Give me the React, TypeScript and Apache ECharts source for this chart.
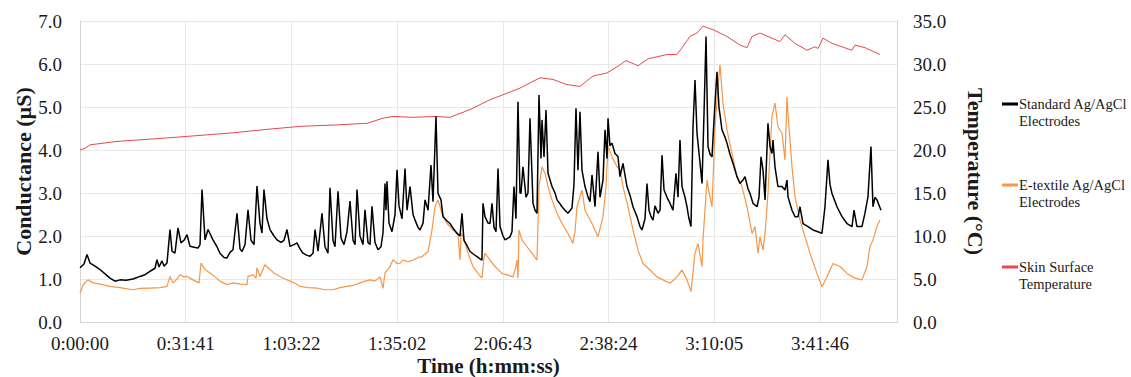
import React, { useEffect, useRef } from "react";
import * as echarts from "echarts";

// Time in seconds, value in µS / °C
const standardAgAgCl: [number, number][] = [
  [0, 1.26], [72, 1.35], [126, 1.57], [180, 1.37], [270, 1.3], [360, 1.22], [450, 1.12], [539, 1.02],
  [629, 0.95], [719, 0.98], [827, 0.97], [953, 1.0], [1079, 1.06], [1169, 1.1], [1259, 1.18], [1349, 1.25],
  [1384, 1.45], [1420, 1.28], [1474, 1.42], [1510, 1.3], [1564, 1.37], [1618, 2.15], [1654, 1.65], [1708, 1.6],
  [1762, 2.19], [1816, 1.84], [1870, 1.9], [1924, 2.03], [1978, 1.76], [2050, 1.74], [2122, 1.72], [2158, 1.8],
  [2194, 3.08], [2248, 1.91], [2302, 2.15], [2391, 1.91], [2463, 1.75], [2517, 1.6], [2589, 1.5], [2643, 1.49],
  [2697, 1.62], [2751, 1.68], [2823, 2.53], [2877, 1.7], [2913, 1.64], [2967, 1.8], [3021, 2.61], [3075, 1.9],
  [3129, 1.8], [3182, 3.16], [3236, 2.3], [3272, 2.07], [3308, 3.08], [3362, 2.4], [3416, 2.15], [3488, 2.0],
  [3542, 1.91], [3614, 1.85], [3668, 1.9], [3722, 2.15], [3776, 1.76], [3848, 1.8], [3902, 1.84], [3956, 1.7],
  [4010, 1.6], [4082, 1.55], [4136, 1.53], [4190, 1.6], [4226, 2.15], [4280, 1.65], [4351, 2.53], [4405, 1.75],
  [4459, 1.6], [4495, 3.12], [4549, 1.9], [4585, 1.75], [4639, 3.04], [4693, 1.95], [4747, 1.8], [4801, 2.1],
  [4855, 2.81], [4909, 1.9], [4945, 1.8], [4981, 3.08], [5034, 2.0], [5088, 1.8], [5124, 2.61], [5178, 1.85],
  [5214, 1.8], [5250, 2.69], [5304, 1.85], [5358, 1.68], [5412, 1.75], [5448, 2.07], [5484, 3.22], [5502, 2.6],
  [5520, 3.27], [5556, 2.3], [5610, 2.1], [5664, 2.5], [5700, 3.54], [5736, 2.7], [5790, 2.4], [5844, 3.57],
  [5880, 2.6], [5934, 3.15], [5988, 2.5], [6024, 2.37], [6078, 2.2], [6114, 2.14], [6168, 2.3], [6204, 2.84],
  [6258, 2.6], [6311, 3.65], [6347, 2.8], [6401, 4.78], [6437, 2.99], [6491, 2.84], [6527, 2.45], [6599, 2.35],
  [6653, 2.29], [6725, 2.15], [6779, 2.06], [6833, 2.0], [6868, 2.53], [6904, 1.9], [6958, 1.78], [7012, 1.64],
  [7084, 1.57], [7138, 1.52], [7192, 1.47], [7228, 1.44], [7246, 2.76], [7282, 2.45], [7336, 2.3], [7372, 2.29],
  [7408, 2.76], [7444, 2.2], [7480, 2.1], [7516, 3.57], [7552, 2.22], [7606, 2.0], [7642, 1.91], [7695, 1.95],
  [7731, 1.98], [7767, 2.1], [7803, 3.15], [7839, 2.4], [7875, 5.12], [7911, 3.0], [7929, 2.99], [7965, 3.61],
  [8019, 2.9], [8055, 3.0], [8091, 4.74], [8145, 2.76], [8181, 2.6], [8217, 2.53], [8253, 5.28], [8289, 3.8],
  [8307, 4.7], [8343, 3.84], [8379, 4.93], [8415, 3.46], [8487, 3.15], [8541, 3.0], [8577, 2.84], [8630, 2.75],
  [8666, 2.68], [8720, 2.6], [8774, 2.53], [8846, 2.65], [8882, 3.2], [8918, 4.97], [8954, 3.53], [8990, 4.89],
  [9026, 3.53], [9080, 3.15], [9134, 2.91], [9170, 2.8], [9206, 3.42], [9260, 2.68], [9314, 3.96], [9350, 2.9],
  [9404, 3.3], [9440, 4.47], [9476, 3.8], [9494, 4.74], [9529, 4.1], [9565, 4.16], [9619, 3.92], [9673, 3.85],
  [9709, 3.38], [9763, 3.69], [9835, 3.15], [9889, 2.95], [9943, 2.68], [10015, 2.45], [10069, 2.22], [10105, 2.14],
  [10159, 2.4], [10195, 3.22], [10231, 2.6], [10267, 2.45], [10303, 2.37], [10339, 2.7], [10393, 2.53], [10429, 2.6],
  [10465, 3.88], [10501, 3.07], [10555, 2.9], [10608, 2.76], [10662, 2.6], [10716, 3.46], [10752, 2.9], [10788, 4.23],
  [10824, 3.15], [10878, 2.9], [10914, 2.68], [10950, 2.4], [10986, 2.22], [11022, 4.54], [11058, 5.63], [11094, 4.39],
  [11148, 3.7], [11184, 3.22], [11220, 4.85], [11256, 6.64], [11292, 4.08], [11328, 3.9], [11364, 3.84], [11400, 4.7],
  [11453, 5.82], [11489, 5.0], [11543, 4.47], [11597, 4.3], [11633, 4.16], [11687, 3.9], [11741, 3.69], [11813, 3.38],
  [11867, 3.22], [11921, 3.3], [11957, 3.38], [12011, 3.1], [12047, 2.99], [12101, 2.76], [12173, 2.68], [12209, 2.9],
  [12245, 3.84], [12281, 3.53], [12317, 2.84], [12370, 4.62], [12406, 4.08], [12442, 3.92], [12460, 4.23], [12496, 3.61],
  [12550, 3.15], [12622, 3.15], [12676, 3.07], [12712, 3.3], [12730, 2.91], [12802, 2.6], [12856, 2.45], [12910, 2.45],
  [12946, 2.68], [13000, 2.29], [13090, 2.22], [13179, 2.14], [13269, 2.1], [13341, 2.06], [13395, 2.68], [13449, 3.77],
  [13485, 3.2], [13521, 2.99], [13611, 2.68], [13701, 2.45], [13791, 2.29], [13881, 2.22], [13917, 2.6], [13970, 2.22],
  [14060, 2.22], [14114, 2.53], [14168, 2.91], [14222, 4.08], [14258, 2.68], [14294, 2.9], [14330, 2.84], [14402, 2.6],
];

const etextileAgAgCl: [number, number][] = [
  [0, 0.67], [54, 0.85], [90, 0.91], [144, 0.98], [234, 0.91], [360, 0.88], [539, 0.83], [719, 0.8],
  [953, 0.75], [1079, 0.78], [1259, 0.79], [1438, 0.8], [1564, 0.83], [1618, 1.06], [1672, 0.91], [1744, 1.0],
  [1798, 1.1], [1870, 1.05], [1924, 1.06], [2032, 0.98], [2140, 0.91], [2176, 1.37], [2248, 1.22], [2337, 1.14],
  [2427, 1.05], [2517, 0.95], [2643, 0.87], [2751, 0.91], [2877, 0.88], [3003, 0.87], [3021, 1.06], [3111, 1.1],
  [3164, 1.02], [3182, 1.26], [3236, 1.06], [3326, 1.33], [3416, 1.22], [3506, 1.12], [3596, 1.06], [3686, 1.0],
  [3776, 0.95], [3866, 0.9], [3956, 0.83], [4100, 0.8], [4261, 0.79], [4405, 0.75], [4549, 0.75], [4675, 0.8],
  [4801, 0.83], [4909, 0.85], [5034, 0.91], [5124, 0.95], [5214, 0.98], [5304, 0.95], [5394, 1.05], [5448, 0.78],
  [5484, 1.14], [5574, 1.29], [5628, 1.45], [5700, 1.36], [5754, 1.37], [5808, 1.44], [5898, 1.4], [5988, 1.44],
  [6078, 1.5], [6150, 1.52], [6258, 1.64], [6329, 2.14], [6383, 2.68], [6437, 2.84], [6509, 2.53], [6599, 2.29],
  [6707, 2.14], [6797, 2.06], [6833, 1.44], [6851, 2.06], [6886, 2.0], [6976, 1.6], [7066, 1.29], [7156, 1.13],
  [7228, 1.02], [7264, 1.5], [7282, 1.6], [7372, 1.44], [7462, 1.29], [7588, 1.13], [7695, 1.09], [7785, 1.05],
  [7839, 1.3], [7857, 1.44], [7875, 1.02], [7893, 2.14], [7947, 1.91], [8037, 1.75], [8127, 1.6], [8217, 1.44],
  [8253, 3.15], [8307, 3.61], [8361, 3.46], [8415, 3.15], [8487, 2.84], [8577, 2.53], [8666, 2.29], [8774, 2.06],
  [8864, 1.83], [8900, 2.1], [8936, 2.68], [9026, 3.07], [9080, 2.6], [9206, 2.29], [9314, 1.98], [9404, 2.45],
  [9458, 3.15], [9494, 4.08], [9565, 3.84], [9655, 3.61], [9709, 3.55], [9763, 3.15], [9853, 2.68], [9943, 2.14],
  [10033, 1.67], [10123, 1.36], [10249, 1.21], [10375, 1.05], [10483, 0.98], [10608, 0.9], [10734, 1.05], [10824, 1.21],
  [10914, 0.98], [10986, 0.71], [11058, 1.6], [11112, 1.83], [11184, 1.29], [11202, 1.91], [11274, 3.3], [11328, 2.9],
  [11364, 2.68], [11418, 4.54], [11471, 5.47], [11507, 5.98], [11561, 5.09], [11633, 4.47], [11723, 3.92], [11813, 3.38],
  [11903, 3.15], [11993, 2.68], [12083, 2.06], [12137, 2.22], [12191, 1.6], [12226, 1.98], [12280, 1.67], [12317, 2.06],
  [12370, 2.99], [12406, 3.92], [12442, 4.78], [12496, 5.09], [12550, 4.54], [12622, 4.39], [12676, 3.77], [12712, 5.24],
  [12730, 4.85], [12802, 3.61], [12856, 2.91], [12946, 2.37], [13036, 1.98], [13125, 1.6], [13251, 1.13], [13341, 0.82],
  [13431, 1.05], [13539, 1.36], [13665, 1.29], [13791, 1.13], [13935, 1.02], [14060, 0.98], [14150, 1.29], [14204, 1.75],
  [14258, 1.91], [14330, 2.22], [14384, 2.37],
];

const skinTemperature: [number, number][] = [
  [0, 20.0], [90, 20.2], [180, 20.6], [665, 21.0], [1564, 21.4], [2751, 22.0], [3362, 22.4], [3956, 22.75],
  [4549, 22.9], [5160, 23.1], [5448, 23.7], [5628, 23.9], [5988, 23.8], [6383, 23.9], [6653, 23.8], [7012, 24.7],
  [7372, 25.85], [7677, 26.6], [7911, 27.2], [8271, 28.4], [8505, 28.2], [8756, 27.6], [8990, 27.4], [9224, 28.6],
  [9475, 28.95], [9709, 29.9], [9817, 30.4], [10033, 29.8], [10213, 30.6], [10555, 31.1], [10734, 31.1], [10842, 32.05],
  [10968, 33.2], [11094, 33.6], [11202, 34.4], [11382, 34.0], [11633, 33.2], [11867, 32.2], [11993, 31.9], [12083, 33.2],
  [12226, 33.6], [12442, 33.0], [12586, 32.6], [12676, 33.4], [12856, 32.4], [13072, 31.6], [13215, 32.0], [13269, 31.8],
  [13359, 33.0], [13521, 32.4], [13701, 32.0], [13881, 31.6], [13935, 32.2], [14114, 31.9], [14384, 31.1],
];

const seriesNames = ["Standard Ag/AgCl\nElectrodes", "E-textile Ag/AgCl\nElectrodes", "Skin Surface\nTemperature"];
const seriesColors = ["#000000", "#f79646", "#e8474c"];

const FONT = "Liberation Serif, Times New Roman, serif";
const TXT = "#1a1a1a";

function pad(n: number) {
  return n < 10 ? "0" + n : "" + n;
}
function fmtTime(v: number) {
  const s = Math.round(v);
  const h = Math.floor(s / 3600);
  const m = Math.floor((s % 3600) / 60);
  const ss = s % 60;
  return `${h}:${pad(m)}:${pad(ss)}`;
}

export default function App() {
  const ref = useRef<HTMLDivElement>(null);
  useEffect(() => {
    if (!ref.current) return;
    const chart = echarts.init(ref.current, null, { renderer: "svg" });
    const legendTops = [95.5, 176.5, 258.5];
    const graphic: any[] = [];
    seriesNames.forEach((n, i) => {
      graphic.push({
        type: "rect",
        shape: { x: 1002, y: legendTops[i] + 7, width: 16, height: 3 },
        style: { fill: seriesColors[i] },
      });
      graphic.push({
        type: "text",
        x: 1019,
        y: legendTops[i],
        style: { text: n, fontFamily: FONT, fontSize: 14.5, lineHeight: 17, fill: TXT, verticalAlign: "top" },
      });
    });
    chart.setOption({
      animation: false,
      backgroundColor: "#ffffff",
      textStyle: { fontFamily: FONT },
      grid: { left: 80, right: 234, top: 21, bottom: 55, containLabel: false, outerBoundsMode: "none" },
      xAxis: {
        type: "value",
        min: 0,
        max: 14690,
        interval: 1900.8,
        name: "Time (h:mm:ss)",
        nameLocation: "middle",
        nameGap: 33,
        nameMoveOverlap: false,
        nameTextStyle: { fontFamily: FONT, fontSize: 21, fontWeight: "bold", color: TXT },
        axisLine: { show: true, lineStyle: { color: "#d4d4d4", width: 1 } },
        axisTick: { show: false },
        axisLabel: { formatter: fmtTime, fontFamily: FONT, fontSize: 19, color: TXT, margin: 12, showMaxLabel: false },
        splitLine: { show: true, lineStyle: { color: "#e8e8e8", width: 1 } },
      },
      yAxis: [
        {
          type: "value",
          min: 0,
          max: 7,
          interval: 1,
          name: "Conductance (µS)",
          nameLocation: "middle",
          nameGap: 46,
          nameMoveOverlap: false,
          nameTextStyle: { fontFamily: FONT, fontSize: 22, fontWeight: "bold", color: TXT },
          axisLine: { show: true, lineStyle: { color: "#d4d4d4", width: 1 } },
          axisTick: { show: false },
          axisLabel: { formatter: (v: number) => v.toFixed(1), fontFamily: FONT, fontSize: 19, color: TXT, margin: 18 },
          splitLine: { show: true, lineStyle: { color: "#e8e8e8", width: 1 } },
        },
        {
          type: "value",
          min: 0,
          max: 35,
          interval: 5,
          position: "right",
          name: "Temperature (°C)",
          nameLocation: "middle",
          nameGap: 67,
          nameRotate: -90,
          nameMoveOverlap: false,
          nameTextStyle: { fontFamily: FONT, fontSize: 22, fontWeight: "bold", color: TXT },
          axisLine: { show: true, lineStyle: { color: "#d4d4d4", width: 1 } },
          axisTick: { show: false },
          axisLabel: { formatter: (v: number) => v.toFixed(1), fontFamily: FONT, fontSize: 19, color: TXT, margin: 16 },
          splitLine: { show: false },
        },
      ],
      graphic,
      series: [
        {
          name: seriesNames[2],
          type: "line",
          yAxisIndex: 1,
          data: skinTemperature,
          showSymbol: false,
          lineStyle: { color: seriesColors[2], width: 1 },
          itemStyle: { color: seriesColors[2] },
        },
        {
          name: seriesNames[1],
          type: "line",
          yAxisIndex: 0,
          data: etextileAgAgCl,
          showSymbol: false,
          lineStyle: { color: seriesColors[1], width: 1.2 },
          itemStyle: { color: seriesColors[1] },
        },
        {
          name: seriesNames[0],
          type: "line",
          yAxisIndex: 0,
          data: standardAgAgCl,
          showSymbol: false,
          lineStyle: { color: seriesColors[0], width: 1.5 },
          itemStyle: { color: seriesColors[0] },
        },
      ],
    });
    return () => chart.dispose();
  }, []);
  return (
    <div
      ref={ref}
      style={{ position: "fixed", left: 0, top: 0, width: 1131, height: 377, background: "#fff" }}
    />
  );
}
